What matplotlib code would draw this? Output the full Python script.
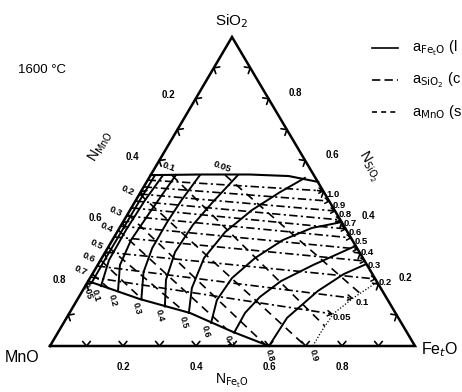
import numpy as np
import matplotlib.pyplot as plt

plt.rcParams['font.family'] = ['Liberation Sans', 'DejaVu Sans']

# ---- values, as mole fractions (N_FetO, N_SiO2) ----

# boundaries of the liquid field
top_feo = [0.0, 0.134, 0.27, 0.38, 0.47]
top_sio2 = [0.553, 0.555, 0.555, 0.55, 0.531]
low_feo = [0.0, 0.17, 0.33, 0.48, 0.60]
low_sio2 = [0.21, 0.152, 0.107, 0.045, 0.0]

# a_FetO iso-activity curves (solid), lower end first
afeo_vals = ['0.05', '0.1', '0.2', '0.3', '0.4', '0.5', '0.6', '0.7', '0.8']
afeo_feo = [
    [0.012, 0.011, 0.011, 0.011, 0.012],
    [0.043, 0.023, 0.021, 0.025, 0.034],
    [0.098, 0.061, 0.051, 0.058, 0.069],
    [0.175, 0.137, 0.122, 0.121, 0.125, 0.135],
    [0.251, 0.211, 0.191, 0.196, 0.213, 0.239],
    [0.327, 0.295, 0.28, 0.296, 0.334, 0.382, 0.427],
    [0.404, 0.383, 0.389, 0.42, 0.467, 0.527, 0.599],
    [0.483, 0.481, 0.496, 0.528, 0.59, 0.676],
    [0.60, 0.604, 0.645, 0.689, 0.734],
]
afeo_sio2 = [
    [0.207, 0.278, 0.375, 0.472, 0.553],
    [0.194, 0.278, 0.375, 0.472, 0.553],
    [0.177, 0.262, 0.343, 0.434, 0.553],
    [0.151, 0.239, 0.317, 0.401, 0.472, 0.553],
    [0.128, 0.214, 0.304, 0.392, 0.463, 0.553],
    [0.107, 0.188, 0.285, 0.369, 0.44, 0.498, 0.544],
    [0.075, 0.149, 0.22, 0.285, 0.343, 0.382, 0.401],
    [0.043, 0.107, 0.159, 0.21, 0.262, 0.324],
    [0.0, 0.091, 0.178, 0.233, 0.265],
]
# a_FetO = 0.9 (dotted)
afeo09_feo = [0.72, 0.72, 0.724, 0.753, 0.793]
afeo09_sio2 = [0.0, 0.045, 0.104, 0.155, 0.207]

# near-horizontal family (dash-dot), start on MnO-SiO2 side, labelled at right end
hz_vals = ['1.0', '0.9', '0.8', '0.7', '0.6', '0.5', '0.4', '0.3', '0.2', '0.1', '0.05']
hz_start_sio2 = [0.537, 0.515, 0.492, 0.469, 0.447, 0.421, 0.388, 0.353, 0.304, 0.259, 0.223]
hz_end_feo = [0.498, 0.531, 0.563, 0.592, 0.621, 0.65, 0.686, 0.725, 0.783, 0.75, 0.72]
hz_end_sio2 = [0.502, 0.469, 0.437, 0.408, 0.379, 0.350, 0.314, 0.275, 0.217, 0.155, 0.104]

# diagonal family (dashed), labelled at upper-left start
dg_vals = ['0.05', '0.1', '0.2', '0.3', '0.4', '0.5', '0.6', '0.7']
dg_start_feo = [0.204, 0.058, 0.0, 0.0, 0.0, 0.0, 0.0, 0.0]
dg_start_sio2 = [0.553, 0.553, 0.492, 0.427, 0.375, 0.320, 0.278, 0.233]
dg_end_feo = [0.765, 0.72, 0.70, 0.585, 0.456, 0.31, 0.18, 0.07]
dg_end_sio2 = [0.17, 0.065, 0.0, 0.006, 0.055, 0.113, 0.149, 0.185]

tick_vals = [0.2, 0.4, 0.6, 0.8]

# ---- page geometry ----
P_MNO = np.array([50.0, 346.0])
P_FEO = np.array([415.0, 346.0])
P_SIO2 = np.array([232.0, 37.0])


def tern(n_feo, n_sio2):
    n_feo = np.asarray(n_feo, float)
    n_sio2 = np.asarray(n_sio2, float)
    n_mno = 1 - n_feo - n_sio2
    x = n_mno * P_MNO[0] + n_feo * P_FEO[0] + n_sio2 * P_SIO2[0]
    y = n_mno * P_MNO[1] + n_feo * P_FEO[1] + n_sio2 * P_SIO2[1]
    return x, y


fig = plt.figure(figsize=(4.62, 3.92), dpi=100)
ax = fig.add_axes([0, 0, 1, 1])
ax.set_xlim(0, 462)
ax.set_ylim(392, 0)
ax.axis('off')


def chevron(px, py, dx, dy, size=6.0, spread=40, lw=1.2):
    ang = np.arctan2(dy, dx)
    for sgn in (1, -1):
        a = ang + np.pi + sgn * np.radians(spread)
        ax.plot([px, px + size * np.cos(a)], [py, py + size * np.sin(a)],
                color='k', lw=lw, solid_capstyle='round')


# triangle
tx, ty = tern([0, 1, 0, 0], [0, 0, 1, 0])
ax.plot(tx, ty, color='k', lw=1.8, solid_joinstyle='miter')

# ticks every 0.1 on the three sides (chevrons pointing outwards)
for k in range(1, 10):
    v = k / 10
    x, y = tern(v, 0)
    chevron(x, y, 0, 1)
    x, y = tern(0, v)
    chevron(x, y, -0.862, -0.507)
    x, y = tern(1 - v, v)
    chevron(x, y, 0.862, -0.507)

# liquid field boundaries
ax.plot(*tern(top_feo, top_sio2), color='k', lw=1.5)
ax.plot(*tern(low_feo, low_sio2), color='k', lw=1.5)

# a_FetO curves
for val, fx, sx in zip(afeo_vals, afeo_feo, afeo_sio2):
    x, y = tern(fx, sx)
    ax.plot(x, y, color='k', lw=1.4)
    dx = 1 if sx[0] < 0.01 else -5
    ax.text(x[0] + dx, y[0] + 9, val, rotation=-75, fontsize=6.5,
            fontweight='bold', ha='center', va='center')
x, y = tern(afeo09_feo, afeo09_sio2)
ax.plot(x, y, color='k', lw=0.9, linestyle=(0, (1, 1.5)))
ax.text(x[0] + 1, y[0] + 9, '0.9', rotation=-75, fontsize=6.5,
        fontweight='bold', ha='center', va='center')

# dash-dot family
for val, s0, fe, se in zip(hz_vals, hz_start_sio2, hz_end_feo, hz_end_sio2):
    x, y = tern([0, fe], [s0, se])
    ax.plot(x, y, color='k', lw=1.2, linestyle=(0, (5, 2, 1.3, 2)))
    chevron(x[1], y[1], x[1] - x[0], y[1] - y[0], size=5, spread=32, lw=1.1)
    ax.text(x[1] + 10, y[1] + 4, val, fontsize=6.8, fontweight='bold',
            ha='center', va='center')

# dashed family
for val, f0, s0, fe, se in zip(dg_vals, dg_start_feo, dg_start_sio2,
                               dg_end_feo, dg_end_sio2):
    x, y = tern([f0, fe], [s0, se])
    ax.plot(x, y, color='k', lw=1.2, linestyle=(0, (5, 3.5)))
    if f0 > 0:
        ax.text(x[0] - 3, y[0] - 8, val, rotation=-20, fontsize=6.8,
                fontweight='bold', ha='center', va='center')
    else:
        ax.text(x[0] - 12, y[0] - 3, val, rotation=-25, fontsize=6.8,
                fontweight='bold', ha='center', va='center')

# axis numbers
for v in tick_vals:
    x, y = tern(0, 1 - v)
    ax.text(x - 27, y - 4, f'{v:.1f}', fontsize=7, fontweight='bold',
            ha='center', va='center')
    x, y = tern(1 - v, v)
    ax.text(x + 27, y - 6, f'{v:.1f}', fontsize=7, fontweight='bold',
            ha='center', va='center')
    x, y = tern(v, 0)
    ax.text(x, y + 21, f'{v:.1f}', fontsize=7, fontweight='bold',
            ha='center', va='center')

# corner and axis titles
ax.text(232, 21, r'SiO$_2$', fontsize=11, ha='center', va='center')
ax.text(22, 357, 'MnO', fontsize=11.5, ha='center', va='center')
ax.text(440, 350, r'Fe$_t$O', fontsize=11.5, ha='center', va='center')
ax.text(42, 70, '1600 °C', fontsize=9.5, ha='center', va='center')
ax.text(101, 146, r'N$_{\mathrm{MnO}}$', fontsize=10, rotation=59.5,
        ha='center', va='center')
ax.text(369, 166, r'N$_{\mathrm{SiO_2}}$', fontsize=10, rotation=-59.5,
        ha='center', va='center')
ax.text(232, 381, r'N$_{\mathrm{Fe_tO}}$', fontsize=10, ha='center', va='center')

# legend (the original is cut at the right edge)
leg_text = [r'a$_{\mathrm{Fe_tO}}$ (l', r'a$_{\mathrm{SiO_2}}$ (c', r'a$_{\mathrm{MnO}}$ (s']
leg_style = ['-', (0, (5, 2.5)), (0, (3, 2.5))]
for i, (lab, ls) in enumerate(zip(leg_text, leg_style)):
    yy = 48 + 32 * i
    ax.plot([372, 398], [yy, yy], color='k', lw=1.2, linestyle=ls)
    ax.text(412, yy, lab, fontsize=10.5, ha='left', va='center')

fig.savefig('out.png', dpi=100)
